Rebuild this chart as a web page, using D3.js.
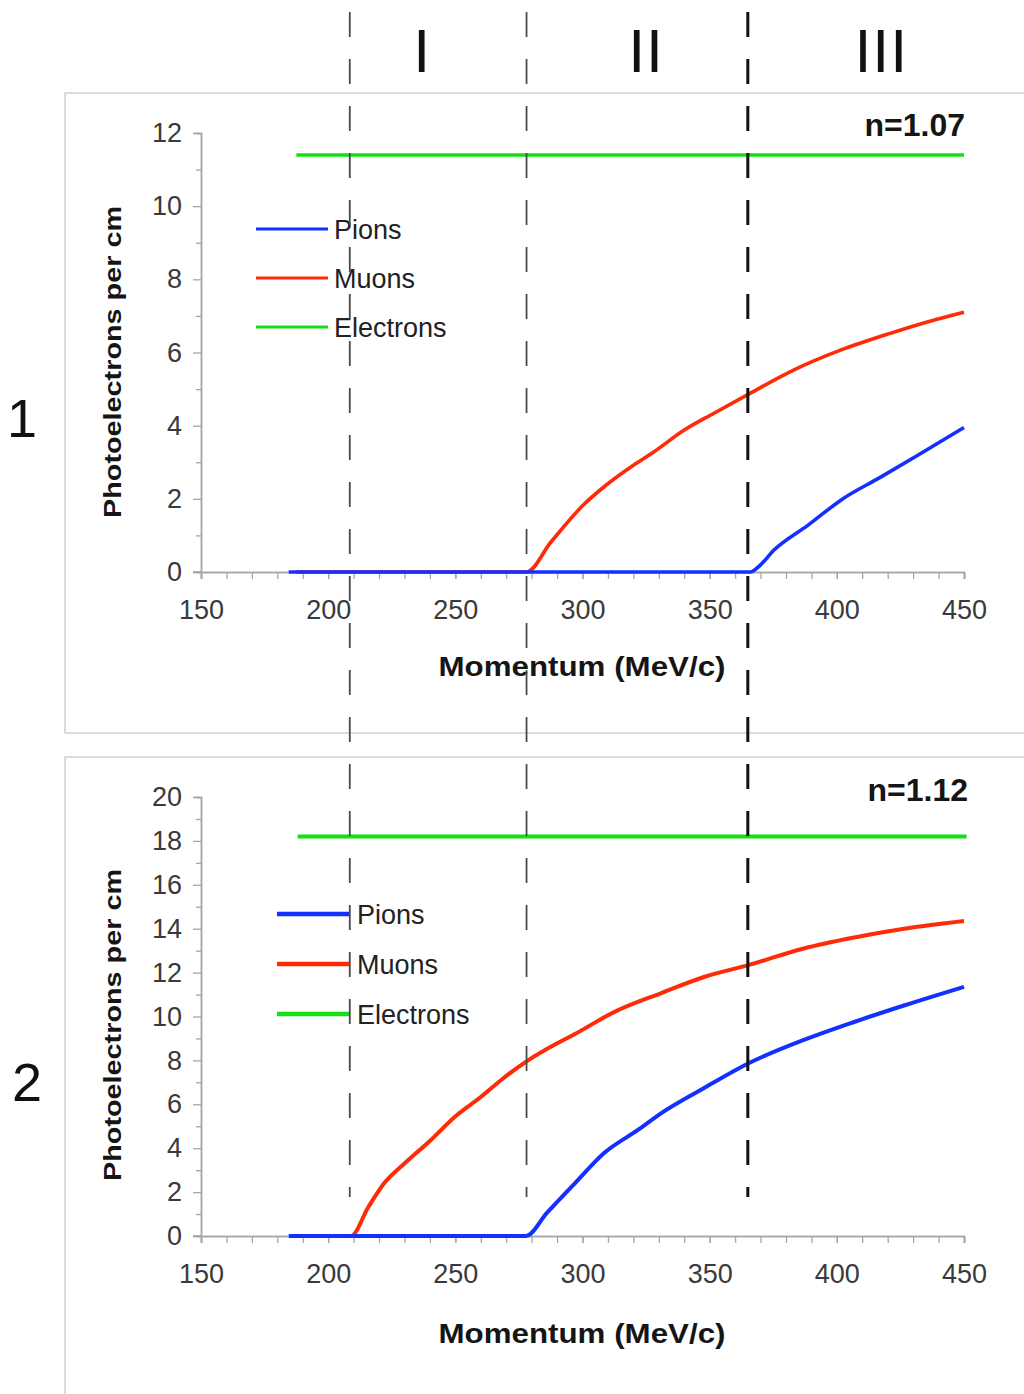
<!DOCTYPE html>
<html>
<head>
<meta charset="utf-8">
<script src="https://cdn.jsdelivr.net/npm/d3@7"></script>
<style>
  html, body { margin: 0; padding: 0; background: #fff; }
  svg { display: block; }
  text { font-family: "Liberation Sans", Arial, sans-serif; }
</style>
</head>
<body>
<svg id="chart" width="1024" height="1394"></svg>
<script>
// ---- Data ---------------------------------------------------------------
const xTicks = [150, 200, 250, 300, 350, 400, 450];
const seriesNames = ["Pions", "Muons", "Electrons"];
const seriesColors = ["#1430ff", "#ff2a08", "#12e012"];

// Region boundaries (MeV/c) and region labels
const regionBounds = [208.5, 278, 365];
const regionNames = ["I", "II", "III"];
const regionCenters = [237, 325, 417.5];

// Panel 1: n = 1.07
const yTicks1 = [0, 2, 4, 6, 8, 10, 12];
const pions1 = [[184.5,0],[366,0],[369,0.13],[375.3,0.6],[388.7,1.28],[401.7,1.97],[417.4,2.6],[432,3.2],[450,3.95]];
const muons1 = [[187.5,0],[278,0],[287.6,0.82],[300.6,1.85],[308.5,2.33],[320.3,2.93],[328,3.28],[340,3.88],[351.7,4.34],[365.5,4.87],[383,5.52],[401.7,6.07],[421.3,6.53],[435.9,6.84],[450,7.1]];
const electrons1 = [[187.5,11.4],[450,11.4]];

// Panel 2: n = 1.12
const yTicks2 = [0, 2, 4, 6, 8, 10, 12, 14, 16, 18, 20];
const pions2 = [[184.5,0],[277.8,0],[286,1.05],[297,2.4],[308.5,3.78],[321.8,4.83],[331,5.6],[347.8,6.74],[365.5,7.88],[387,8.93],[406.8,9.75],[426.4,10.5],[450,11.35]];
const muons2 = [[187.5,0],[209,0],[215.7,1.3],[222,2.4],[230,3.3],[240.4,4.37],[249.5,5.4],[260,6.33],[269,7.2],[278.6,8.0],[290.4,8.8],[297,9.2],[312.4,10.2],[331,11.07],[347.8,11.8],[365.5,12.35],[387,13.1],[406.8,13.6],[426.4,14.0],[450,14.35]];
const electrons2 = [[188,18.2],[451,18.2]];

const panelNumbers = ["1", "2"];
const indexLabels = ["n=1.07", "n=1.12"];

// ---- Layout -------------------------------------------------------------
const svg = d3.select("#chart");
const xRange = [201, 964];

const panels = [
  { num: panelNumbers[0], idx: indexLabels[0], yTicks: yTicks1, series: [pions1, muons1, electrons1],
    frame: {x: 65, y: 93, h: 640}, yRange: [572, 133], numPos: [22, 418],
    yTitleY: 362, xTitleY: 666, idxPos: [965, 124],
    legend: {x0: 256, x1: 328, tx: 334, y0: 229, dy: 49, w: 3}, lineW: 3.6 },
  { num: panelNumbers[1], idx: indexLabels[1], yTicks: yTicks2, series: [pions2, muons2, electrons2],
    frame: {x: 65, y: 757, h: 700}, yRange: [1236, 797], numPos: [27, 1082],
    yTitleY: 1025, xTitleY: 1333, idxPos: [968, 789],
    legend: {x0: 277, x1: 350, tx: 357, y0: 914, dy: 50, w: 4.5}, lineW: 4 }
];

const x = d3.scaleLinear().domain([xTicks[0], xTicks[xTicks.length - 1]]).range(xRange);

panels.forEach(p => {
  const yMax = p.yTicks[p.yTicks.length - 1];
  const y = d3.scaleLinear().domain([0, yMax]).range(p.yRange);
  const g = svg.append("g");

  // panel frame
  g.append("rect")
    .attr("x", p.frame.x).attr("y", p.frame.y)
    .attr("width", 1100).attr("height", p.frame.h)
    .attr("fill", "none").attr("stroke", "#cfcfcf").attr("stroke-width", 1.5);

  // panel number
  g.append("text")
    .attr("x", p.numPos[0]).attr("y", p.numPos[1]).attr("dy", "0.36em")
    .attr("text-anchor", "middle").attr("font-size", 54).attr("fill", "#111")
    .text(p.num);

  const minorY = d3.range(1, yMax, 2);
  const minorX = d3.range(xTicks[0], xTicks[xTicks.length - 1] + 1, 10);
  const axisColor = "#a6a6a6";

  const yMinor = g.append("g").attr("transform", `translate(${xRange[0]},0)`)
    .call(d3.axisLeft(y).tickValues(minorY).tickSize(5).tickFormat(""));
  const yAxis = g.append("g").attr("transform", `translate(${xRange[0]},0)`)
    .call(d3.axisLeft(y).tickValues(p.yTicks).tickSize(8).tickPadding(11).tickFormat(d3.format("d")));
  const xMinor = g.append("g").attr("transform", `translate(0,${p.yRange[0]})`)
    .call(d3.axisBottom(x).tickValues(minorX).tickSize(7).tickFormat(""));
  const xAxis = g.append("g").attr("transform", `translate(0,${p.yRange[0]})`)
    .call(d3.axisBottom(x).tickValues(xTicks).tickSize(7).tickPadding(21).tickFormat(d3.format("d")));

  [yMinor, yAxis, xMinor, xAxis].forEach(a => {
    a.select(".domain").attr("stroke", axisColor).attr("stroke-width", 1.5);
    a.selectAll(".tick line").attr("stroke", axisColor).attr("stroke-width", 1.3);
    a.selectAll("text").attr("font-size", 27).attr("fill", "#3a3a3a")
      .attr("font-family", "Liberation Sans, Arial, sans-serif");
  });
  g.append("line").attr("x1", xRange[0] - 8).attr("x2", xRange[0])
    .attr("y1", p.yRange[0]).attr("y2", p.yRange[0])
    .attr("stroke", axisColor).attr("stroke-width", 1.5);

  // axis titles
  g.append("text")
    .attr("transform", `translate(112,${p.yTitleY}) rotate(-90)`)
    .attr("text-anchor", "middle").attr("dy", "0.36em")
    .attr("font-size", 24).attr("font-weight", "bold").attr("fill", "#151515")
    .attr("textLength", 312).attr("lengthAdjust", "spacingAndGlyphs")
    .text("Photoelectrons per cm");
  g.append("text")
    .attr("x", 582).attr("y", p.xTitleY).attr("dy", "0.36em")
    .attr("text-anchor", "middle")
    .attr("font-size", 27).attr("font-weight", "bold").attr("fill", "#151515")
    .attr("textLength", 287).attr("lengthAdjust", "spacingAndGlyphs")
    .text("Momentum (MeV/c)");

  // refractive index label
  g.append("text")
    .attr("x", p.idxPos[0]).attr("y", p.idxPos[1]).attr("dy", "0.36em")
    .attr("text-anchor", "end").attr("font-size", 32).attr("font-weight", "bold").attr("fill", "#151515")
    .text(p.idx);

  // data lines: electrons, then muons, then pions on top
  const line = d3.line().x(d => x(d[0])).y(d => y(d[1])).curve(d3.curveMonotoneX);
  [2, 1, 0].forEach(i => {
    g.append("path")
      .datum(p.series[i])
      .attr("d", line)
      .attr("fill", "none")
      .attr("stroke", seriesColors[i])
      .attr("stroke-width", p.lineW)
      .attr("stroke-linejoin", "round");
  });

  // legend
  seriesNames.forEach((name, i) => {
    const ly = p.legend.y0 + i * p.legend.dy;
    g.append("line")
      .attr("x1", p.legend.x0).attr("x2", p.legend.x1)
      .attr("y1", ly).attr("y2", ly)
      .attr("stroke", seriesColors[i]).attr("stroke-width", p.legend.w);
    g.append("text")
      .attr("x", p.legend.tx).attr("y", ly).attr("dy", "0.36em")
      .attr("font-size", 27).attr("fill", "#222")
      .text(name);
  });
});

// region boundaries (dashed verticals spanning both panels)
const dashStyles = [
  {stroke: "#4a4a4a", w: 1.8},
  {stroke: "#4a4a4a", w: 1.8},
  {stroke: "#111", w: 3}
];
regionBounds.forEach((b, i) => {
  svg.append("line")
    .attr("x1", x(b)).attr("x2", x(b))
    .attr("y1", 12).attr("y2", 1197)
    .attr("stroke", dashStyles[i].stroke)
    .attr("stroke-width", dashStyles[i].w)
    .attr("stroke-dasharray", "25 22");
});

// region labels
regionNames.forEach((n, i) => {
  svg.append("text")
    .attr("x", x(regionCenters[i])).attr("y", 72)
    .attr("text-anchor", "middle")
    .attr("font-size", 61).attr("fill", "#111")
    .attr("letter-spacing", 1)
    .text(n);
});
</script>
</body>
</html>
